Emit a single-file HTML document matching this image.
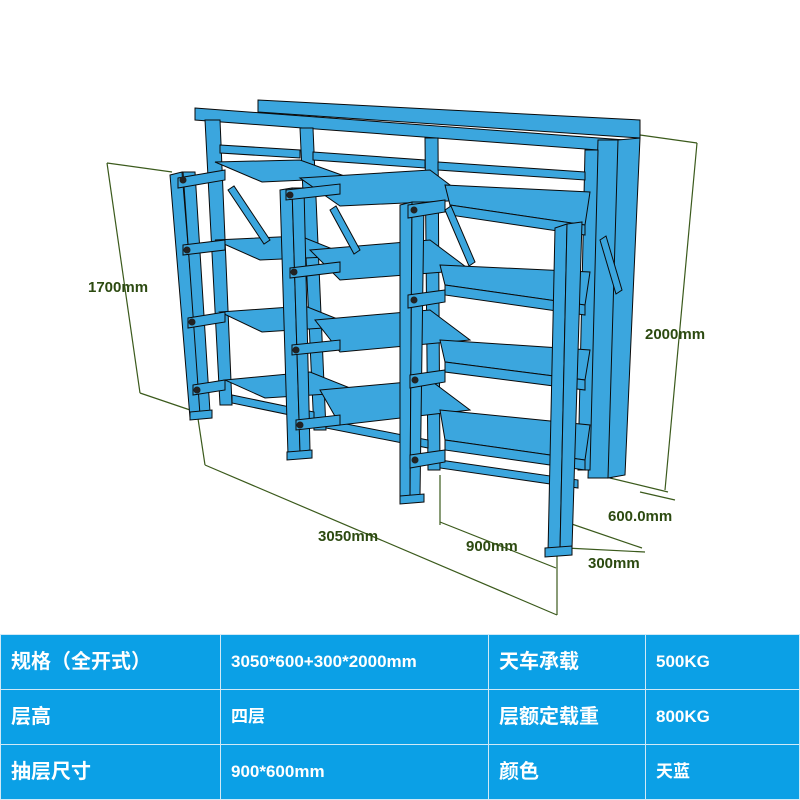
<!DOCTYPE html>
<html><head><meta charset="utf-8"><style>
html,body{margin:0;padding:0;background:#fff;width:800px;height:800px;overflow:hidden;font-family:"Liberation Sans","Noto Sans CJK SC",sans-serif}
#d{position:absolute;left:0;top:0}
table{position:absolute;left:0;top:634px;width:800px;height:166px;border-collapse:collapse;table-layout:fixed;background:#0ba0e6;color:#fff;font-weight:bold}
td{border:1px solid #cfe9f7;height:54px;padding:0 0 0 10px;font-size:20px;box-sizing:border-box;line-height:20px}
td.s{font-size:17px}
</style></head><body>
<svg id="d" width="800" height="634" viewBox="0 0 800 634">
<g stroke="#3b5a1c" stroke-width="1.2" fill="none">
<line x1="107" y1="163" x2="172" y2="172"/><line x1="140" y1="393" x2="196" y2="412"/>
<line x1="107" y1="163" x2="140" y2="393"/>
<line x1="640" y1="135" x2="697" y2="143"/><line x1="610" y1="478" x2="668" y2="492"/>
<line x1="697" y1="143" x2="665" y2="490"/>
<line x1="197" y1="412" x2="205" y2="465"/><line x1="557" y1="555" x2="557" y2="615"/>
<line x1="205" y1="465" x2="557" y2="615"/>
<line x1="440" y1="475" x2="440" y2="525"/><line x1="440" y1="522" x2="556" y2="568"/>
<line x1="560" y1="520" x2="642" y2="548"/><line x1="566" y1="548" x2="645" y2="552"/>
<line x1="640" y1="492" x2="675" y2="500"/>
</g>
<g fill="#2c4a10" font-weight="bold" font-size="15">
<text x="88" y="292">1700mm</text><text x="645" y="339">2000mm</text>
<text x="318" y="541">3050mm</text><text x="466" y="551">900mm</text>
<text x="608" y="521">600.0mm</text><text x="588" y="568">300mm</text>
</g>
<g fill="#3ba6de" stroke="#0a0a0a" stroke-width="1">
<polygon points="258,100 640,120 640,138 258,112"/>
<polygon points="195,108 625,140 625,152 195,120"/>
<polygon points="598,140 628,140 612,478 588,478"/>
<polygon points="618,140 640,138 625,475 608,478"/>
<polygon points="205,120 220,120 232,405 220,405"/>
<polygon points="300,128 313,128 326,430 314,430"/>
<polygon points="425,138 438,138 440,470 428,470"/>
<polygon points="585,150 598,150 590,470 578,470"/>
<!-- upper rails -->
<polygon points="220,145 300,150 300,158 220,153"/><polygon points="313,152 425,160 425,168 313,160"/>
<polygon points="438,162 585,172 585,180 438,170"/>
<polygon points="232,395 314,412 314,420 232,403"/><polygon points="326,420 428,440 428,448 326,428"/>
<polygon points="440,460 578,480 578,488 440,468"/>
<polygon points="215,162 300,160 350,178 262,182"/><polygon points="215,240 300,236 350,256 260,260"/>
<polygon points="220,312 305,306 355,326 262,332"/><polygon points="225,380 310,372 360,392 265,398"/>
<polygon points="300,178 430,170 470,200 340,206"/><polygon points="310,250 430,240 470,270 340,280"/>
<polygon points="315,320 430,310 470,340 340,352"/><polygon points="320,390 430,380 470,410 340,425"/>
<polygon points="445,185 590,192 585,225 450,205"/><polygon points="440,265 590,272 585,305 445,285"/>
<polygon points="440,340 590,350 585,380 445,362"/><polygon points="440,410 590,425 585,460 445,440"/>
<polygon points="450,205 585,225 585,235 450,215"/><polygon points="445,285 585,305 585,315 445,295"/>
<polygon points="445,362 585,380 585,390 445,372"/><polygon points="445,440 585,460 585,470 445,450"/>
<polygon points="228,190 234,186 270,240 264,244"/><polygon points="330,210 336,206 360,250 354,254"/>
<polygon points="445,210 451,206 475,262 469,266"/><polygon points="600,240 606,236 622,290 616,294"/>
<polygon points="170,175 182,172 202,415 190,418"/><polygon points="183,172 195,172 210,412 200,415"/>
<polygon points="280,190 292,188 300,452 288,455"/><polygon points="292,188 304,188 310,450 300,452"/>
<polygon points="400,205 412,202 410,498 400,500"/><polygon points="412,202 424,202 420,496 410,498"/>
<polygon points="555,228 567,224 560,550 548,552"/><polygon points="567,224 582,222 572,548 560,550"/>
<polygon points="178,178 225,170 225,180 178,188"/><polygon points="183,245 225,240 225,250 183,255"/>
<polygon points="188,318 225,312 225,322 188,328"/><polygon points="193,385 225,380 225,390 193,395"/>
<polygon points="286,190 340,184 340,194 286,200"/><polygon points="290,268 340,262 340,272 290,278"/>
<polygon points="292,345 340,340 340,350 292,355"/><polygon points="296,420 340,415 340,425 296,430"/>
<polygon points="408,205 445,200 445,212 408,218"/><polygon points="408,295 445,290 445,302 408,308"/>
<polygon points="410,375 445,370 445,382 410,388"/><polygon points="410,455 445,450 445,462 410,468"/>
<polygon points="190,412 212,410 212,418 190,420"/><polygon points="287,452 312,450 312,458 287,460"/>
<polygon points="400,496 424,494 424,502 400,504"/><polygon points="545,548 572,546 572,555 545,557"/>
</g>
<g fill="#222">
<circle cx="183" cy="180" r="3.5"/><circle cx="187" cy="250" r="3.5"/><circle cx="192" cy="322" r="3.5"/><circle cx="197" cy="390" r="3.5"/>
<circle cx="290" cy="195" r="3.5"/><circle cx="294" cy="272" r="3.5"/><circle cx="296" cy="350" r="3.5"/><circle cx="300" cy="425" r="3.5"/>
<circle cx="414" cy="210" r="3.5"/><circle cx="414" cy="300" r="3.5"/><circle cx="415" cy="380" r="3.5"/><circle cx="415" cy="460" r="3.5"/>
</g>
</svg>
<table>
<tr><td style="width:220px">规格（全开式）</td><td class="s" style="width:268px">3050*600+300*2000mm</td><td style="width:157px">天车承载</td><td class="s">500KG</td></tr>
<tr><td>层高</td><td class="s">四层</td><td>层额定载重</td><td class="s">800KG</td></tr>
<tr><td>抽层尺寸</td><td class="s">900*600mm</td><td>颜色</td><td class="s">天蓝</td></tr>
</table>
</body></html>
